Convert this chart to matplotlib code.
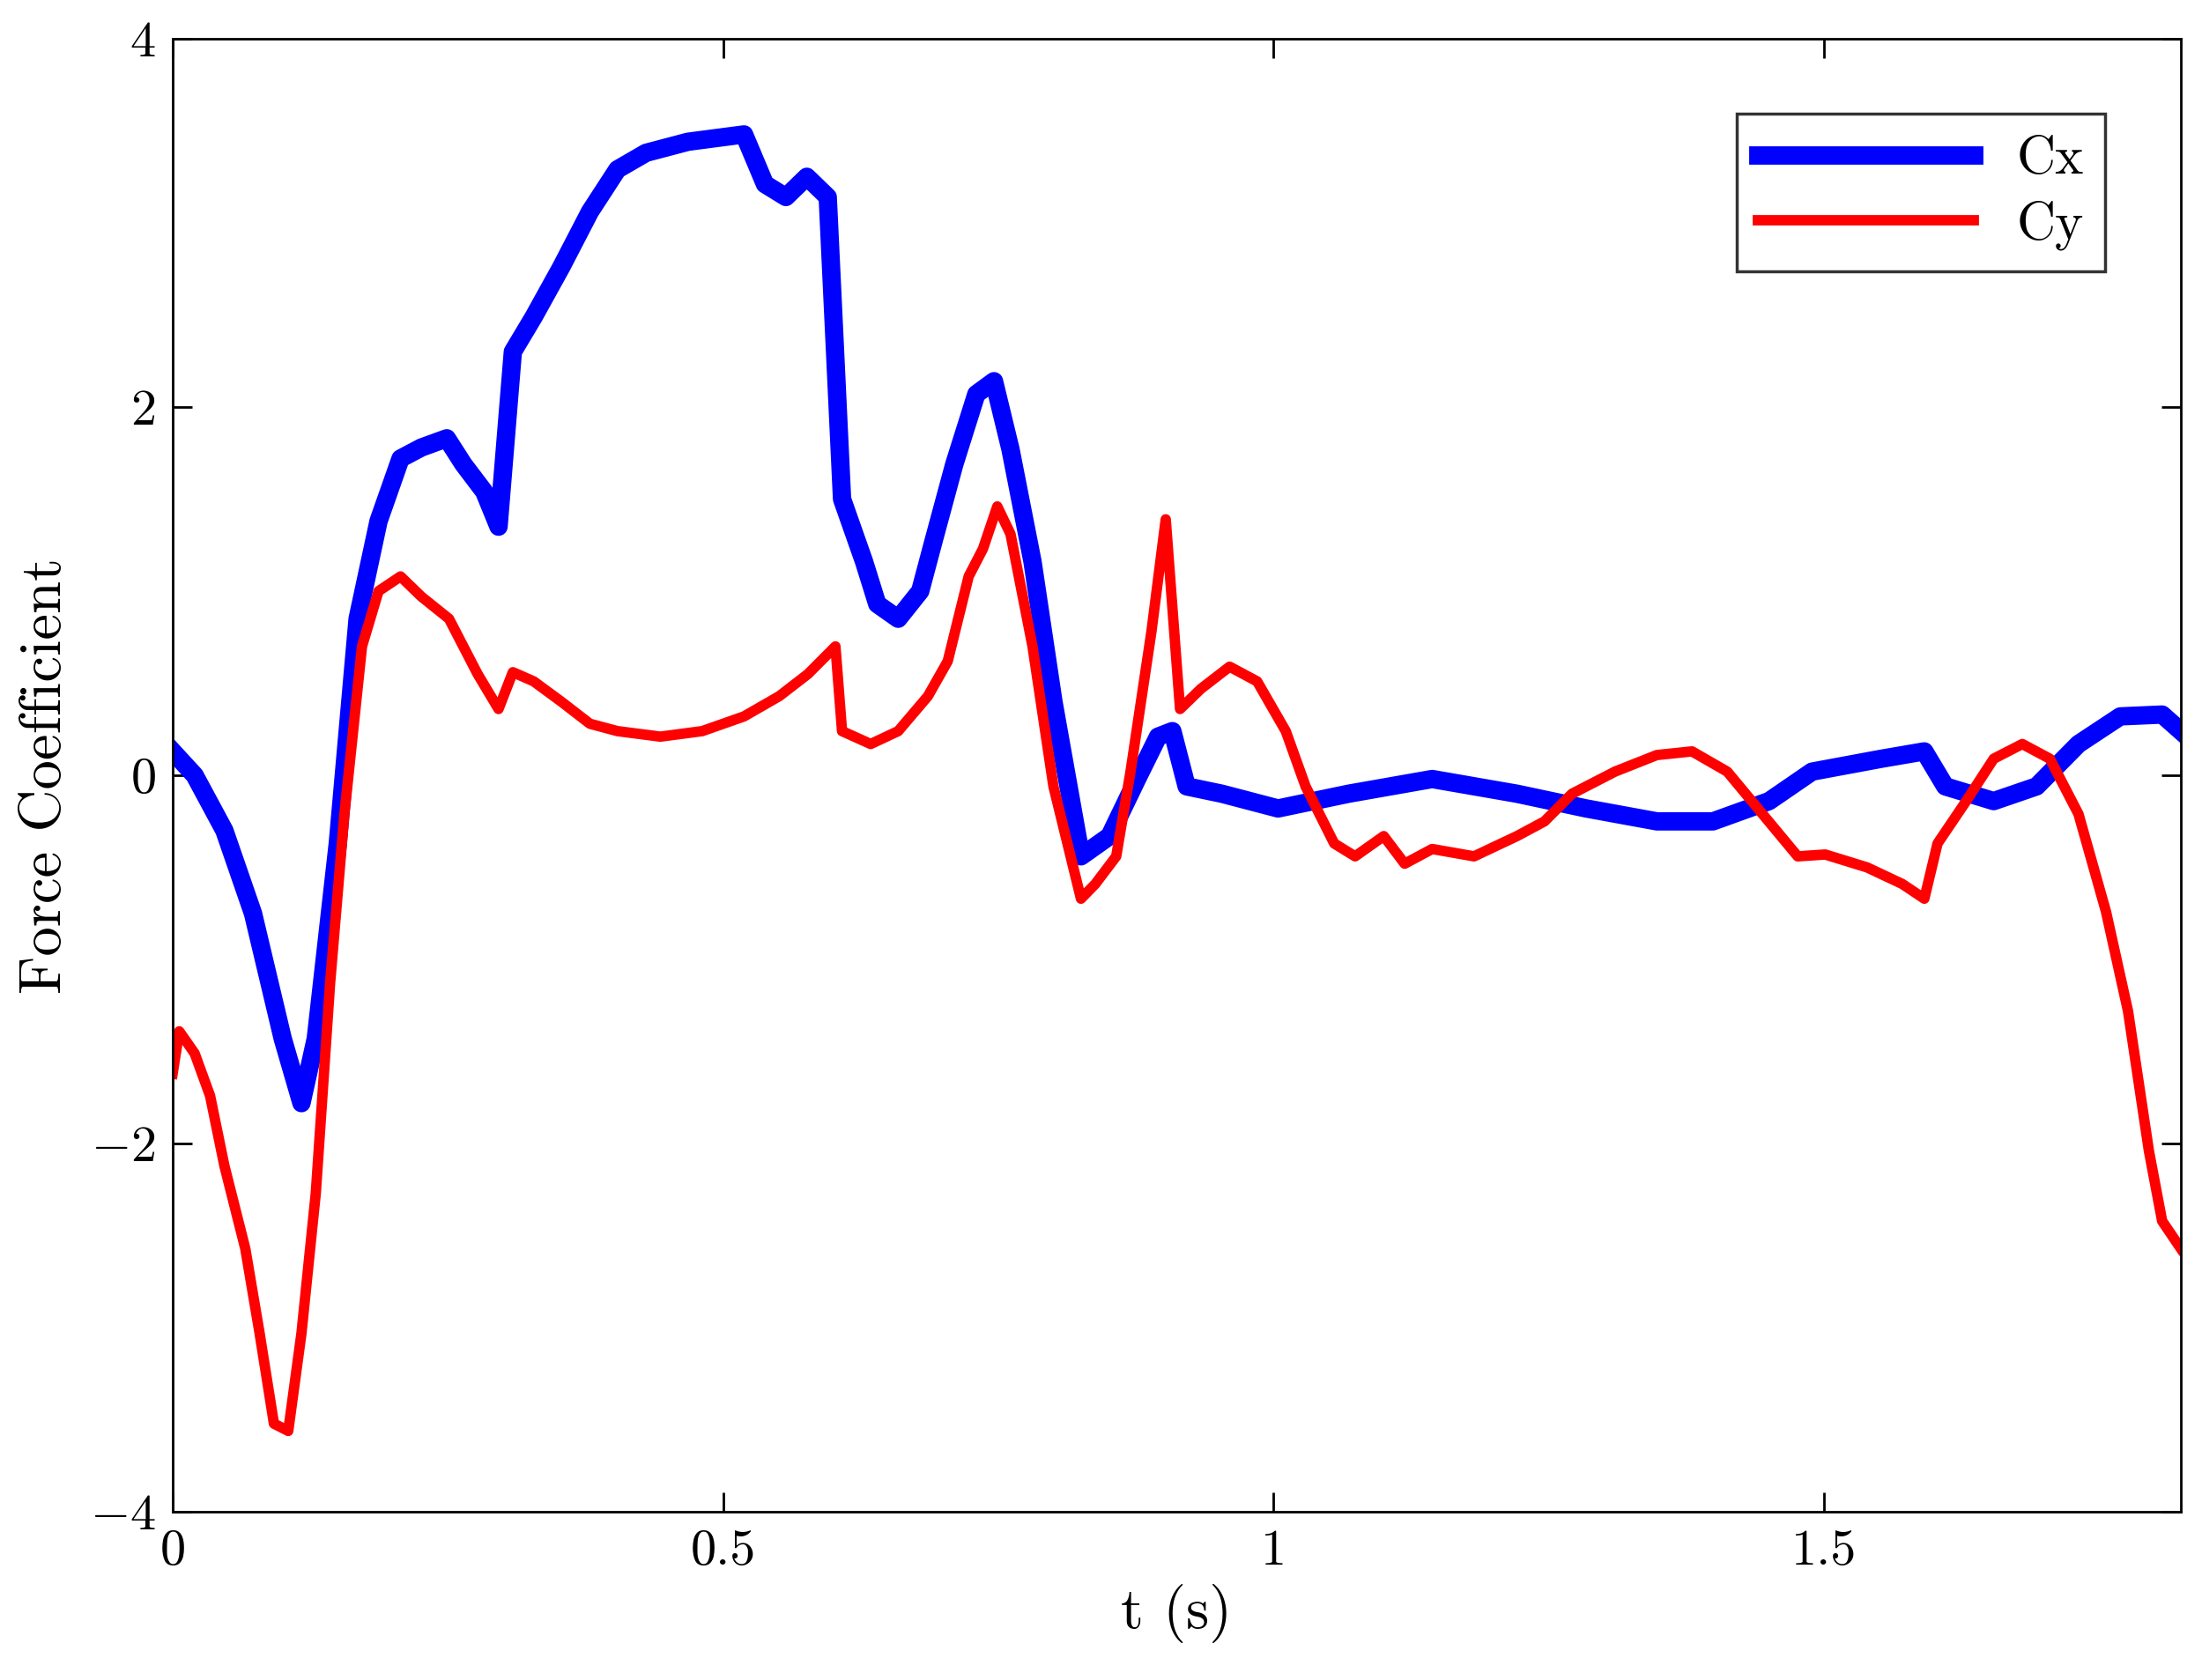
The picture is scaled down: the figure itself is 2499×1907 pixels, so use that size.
import matplotlib
matplotlib.use("Agg")
import matplotlib.pyplot as plt

# Cx (blue) samples
t_cx = [0, 0.02, 0.047, 0.073, 0.1, 0.117, 0.13, 0.15, 0.168, 0.187, 0.207, 0.226, 0.249, 0.264,
        0.283, 0.296, 0.309, 0.328, 0.353, 0.379, 0.404, 0.430, 0.468, 0.519, 0.538, 0.557, 0.576,
        0.595, 0.608, 0.628, 0.640, 0.659, 0.679, 0.691, 0.710, 0.730, 0.746, 0.761, 0.781, 0.8,
        0.825, 0.851, 0.876, 0.895, 0.908, 0.921, 0.953, 1.004, 1.068, 1.144, 1.221, 1.284, 1.348,
        1.399, 1.45, 1.489, 1.552, 1.591, 1.610, 1.654, 1.693, 1.731, 1.769, 1.807, 1.824]
cx = [0.13, 0.0, -0.3, -0.75, -1.43, -1.78, -1.43, -0.37, 0.85, 1.38, 1.72, 1.78, 1.83, 1.69,
      1.54, 1.35, 2.3, 2.49, 2.76, 3.06, 3.29, 3.38, 3.44, 3.48, 3.21, 3.14, 3.25,
      3.14, 1.5, 1.16, 0.93, 0.85, 1.0, 1.27, 1.69, 2.07, 2.14, 1.77, 1.16, 0.4,
      -0.44, -0.33, -0.02, 0.21, 0.24, -0.06, -0.1, -0.18, -0.1, -0.02, -0.1, -0.18, -0.25,
      -0.25, -0.14, 0.02, 0.09, 0.13, -0.06, -0.14, -0.06, 0.17, 0.32, 0.33, 0.24]

# Cy (red) samples
t_cy = [0, 0.006, 0.02, 0.034, 0.047, 0.066, 0.079, 0.092, 0.105, 0.117, 0.13, 0.143, 0.156,
        0.172, 0.187, 0.207, 0.226, 0.251, 0.277, 0.296, 0.309, 0.328, 0.353, 0.379, 0.404,
        0.443, 0.481, 0.519, 0.551, 0.577, 0.602, 0.608, 0.634, 0.659, 0.686, 0.704, 0.723,
        0.736, 0.749, 0.761, 0.781, 0.8, 0.825, 0.838, 0.857, 0.870, 0.889, 0.902, 0.915,
        0.934, 0.96, 0.985, 1.011, 1.029, 1.055, 1.074, 1.1, 1.119, 1.144, 1.182, 1.221,
        1.246, 1.271, 1.310, 1.348, 1.380, 1.412, 1.444, 1.476, 1.501, 1.539, 1.571, 1.591,
        1.603, 1.629, 1.654, 1.68, 1.705, 1.731, 1.756, 1.776, 1.795, 1.807, 1.824]
cy = [-1.62, -1.39, -1.51, -1.74, -2.12, -2.57, -3.03, -3.52, -3.56, -3.03, -2.27, -1.13, -0.21,
      0.70, 1.0, 1.08, 0.97, 0.85, 0.55, 0.36, 0.56, 0.51, 0.4, 0.28, 0.24,
      0.21, 0.24, 0.32, 0.43, 0.55, 0.70, 0.24, 0.17, 0.24, 0.43, 0.62, 1.08,
      1.23, 1.46, 1.31, 0.70, -0.06, -0.67, -0.59, -0.44, 0.02, 0.78, 1.39, 0.36,
      0.47, 0.59, 0.51, 0.24, -0.06, -0.37, -0.44, -0.33, -0.48, -0.4, -0.44, -0.33,
      -0.25, -0.1, 0.02, 0.11, 0.13, 0.02, -0.21, -0.44, -0.43, -0.5, -0.59, -0.67,
      -0.37, -0.14, 0.09, 0.17, 0.09, -0.21, -0.74, -1.28, -2.04, -2.42, -2.57]

plt.rcParams["font.family"] = "cmr10"
plt.rcParams["axes.formatter.use_mathtext"] = True
plt.rcParams["mathtext.fontset"] = "cm"

fig = plt.figure(figsize=(24.99, 19.07), dpi=100)
ax = fig.add_axes([0.0784, 0.100, 0.912, 0.877])
ax.plot(t_cx, cx, color="#0000ff", lw=15, label="Cx")
ax.plot(t_cy, cy, color="#ff0000", lw=8.5, label="Cy")
ax.set_xlim(0, 1.824)
ax.set_ylim(-4, 4)
ax.set_xticks([0, 0.5, 1, 1.5])
ax.set_xticklabels(["0", "0.5", "1", "1.5"])
ax.set_yticks([-4, -2, 0, 2, 4])
ax.tick_params(direction="in", top=True, right=True, labelsize=42, length=16, width=2, pad=14)
for s in ax.spines.values():
    s.set_linewidth(2)
ax.set_xlabel("t (s)", fontsize=48, labelpad=8)
ax.set_ylabel("Force Coefficient", fontsize=48, labelpad=14)
leg = ax.legend(loc="upper right", fontsize=44, fancybox=False, edgecolor="black",
                handlelength=4.0, borderaxespad=1.4, labelspacing=0.3)
leg.get_frame().set_linewidth(2.5)
fig.savefig("out.png", dpi=100)
